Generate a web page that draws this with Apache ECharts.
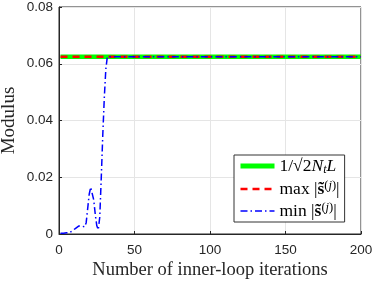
<!DOCTYPE html>
<html>
<head>
<meta charset="utf-8">
<script src="https://cdn.jsdelivr.net/npm/echarts@6/dist/echarts.min.js"></script>
<style>html,body{margin:0;padding:0;background:#fff;}#c{width:375px;height:281px;}</style>
</head>
<body>
<div id="c"></div>
<script>
// Data
const minIter = [1,2,3,4,5,6,7,8,9,10,11,12,13,14,15,16,17,18,19,20,21,22,23,24,25,26,27,28,29,30,31,32,200];
const minModulus = [0.0003,0.0002,0.0003,0.0002,0.0004,0.0003,0.0005,0.0008,0.0012,0.0015,0.002,0.0025,0.0028,0.0025,0.0028,0.0022,0.0025,0.004,0.009,0.014,0.0165,0.016,0.012,0.007,0.003,0.0015,0.006,0.02,0.035,0.048,0.058,0.0625,0.0625];
const boundIter = [1, 200];
const boundValue = [0.0625, 0.0625];
const maxIter = [1, 200];
const maxModulus = [0.0625, 0.0625];
const xTicks = [0, 50, 100, 150, 200];
const yTicks = [0, 0.02, 0.04, 0.06, 0.08];

const zip = (a, b) => a.map((v, i) => [v, b[i]]);
const serif = '"Liberation Serif", "DejaVu Serif", serif';
const sans = '"Liberation Sans", Arial, sans-serif';

const chart = echarts.init(document.getElementById('c'), null, {renderer: 'canvas'});
chart.setOption({
  animation: false,
  backgroundColor: '#fff',
  grid: {left: 59, right: 14, top: 7, bottom: 47, containLabel: false, outerBoundsMode: 'none',
    show: true, borderColor: '#262626', borderWidth: 1, backgroundColor: 'transparent'},
  xAxis: {
    type: 'value', min: xTicks[0], max: xTicks[xTicks.length - 1], interval: 50,
    name: 'Number of inner-loop iterations', nameLocation: 'middle', nameGap: 27, nameMoveOverlap: false,
    nameTextStyle: {fontFamily: serif, fontSize: 18.5, color: '#262626'},
    axisLine: {show: true, lineStyle: {color: '#262626', width: 1}},
    axisTick: {show: true, inside: true, length: 3, lineStyle: {color: '#262626'}},
    axisLabel: {fontFamily: sans, fontSize: 13.5, color: '#262626', margin: 9},
    splitLine: {show: true, lineStyle: {color: '#e5e5e5', width: 1}}
  },
  yAxis: {
    type: 'value', min: yTicks[0], max: yTicks[yTicks.length - 1], interval: 0.02,
    name: 'Modulus', nameLocation: 'middle', nameGap: 40, nameRotate: 90, nameMoveOverlap: false,
    nameTextStyle: {fontFamily: serif, fontSize: 19, color: '#262626'},
    axisLine: {show: true, lineStyle: {color: '#262626', width: 1}},
    axisTick: {show: true, inside: true, length: 3, lineStyle: {color: '#262626'}},
    axisLabel: {fontFamily: sans, fontSize: 13.5, color: '#262626', margin: 6,
      formatter: v => v === 0 ? '0' : v.toFixed(2)},
    splitLine: {show: true, lineStyle: {color: '#e5e5e5', width: 1}}
  },
  legend: {
    orient: 'vertical', left: 234, top: 155,
    backgroundColor: '#fff', borderColor: '#333', borderWidth: 1,
    padding: [2, 5, 2, 4], itemGap: 3, itemWidth: 34, itemHeight: 14,
    itemStyle: {opacity: 0, borderWidth: 0},
    data: [
      {name: 'bound', lineStyle: {width: 5}},
      {name: 'max', lineStyle: {width: 2.5}},
      {name: 'min', lineStyle: {width: 1.5}}
    ],
    textStyle: {
      fontFamily: serif, fontSize: 17.5, color: '#000',
      rich: {
        n: {fontFamily: serif, fontSize: 17.5, lineHeight: 20},
        i: {fontFamily: serif, fontSize: 17.5, fontStyle: 'italic', lineHeight: 20},
        sub: {fontFamily: serif, fontSize: 12, fontStyle: 'italic', lineHeight: 10, verticalAlign: 'bottom'},
        b: {fontFamily: serif, fontSize: 17.5, fontWeight: 'bold', lineHeight: 20},
        sup: {fontFamily: serif, fontSize: 12.5, lineHeight: 13, verticalAlign: 'top'},
        supi: {fontFamily: serif, fontSize: 12.5, fontStyle: 'italic', lineHeight: 13, verticalAlign: 'top'}
      }
    },
    formatter: function (name) {
      if (name === 'bound') return '{n|1/√2}{i|N}{sub|t}{i|L}';
      if (name === 'max') return '{n|max |}{b|s\u0303}{sup|(}{supi|j}{sup|)}{n||}';
      return '{n|min |}{b|s\u0303}{sup|(}{supi|j}{sup|)}{n||}';
    }
  },
  series: [
    {name: 'bound', type: 'line', data: zip(boundIter, boundValue), symbol: 'none', showSymbol: false,
      lineStyle: {color: '#00ff00', width: 4.5, type: 'solid'}, itemStyle: {color: '#00ff00'}, z: 2},
    {name: 'max', type: 'line', data: zip(maxIter, maxModulus), symbol: 'none', showSymbol: false,
      lineStyle: {color: '#ff0000', width: 2.5, type: [7, 5]}, itemStyle: {color: '#ff0000'}, z: 3},
    {name: 'min', type: 'line', data: zip(minIter, minModulus), symbol: 'none', showSymbol: false,
      lineStyle: {color: '#0000ff', width: 1.5, type: [7, 3, 1.5, 3]}, itemStyle: {color: '#0000ff'}, z: 4}
  ]
});
</script>
</body>
</html>
